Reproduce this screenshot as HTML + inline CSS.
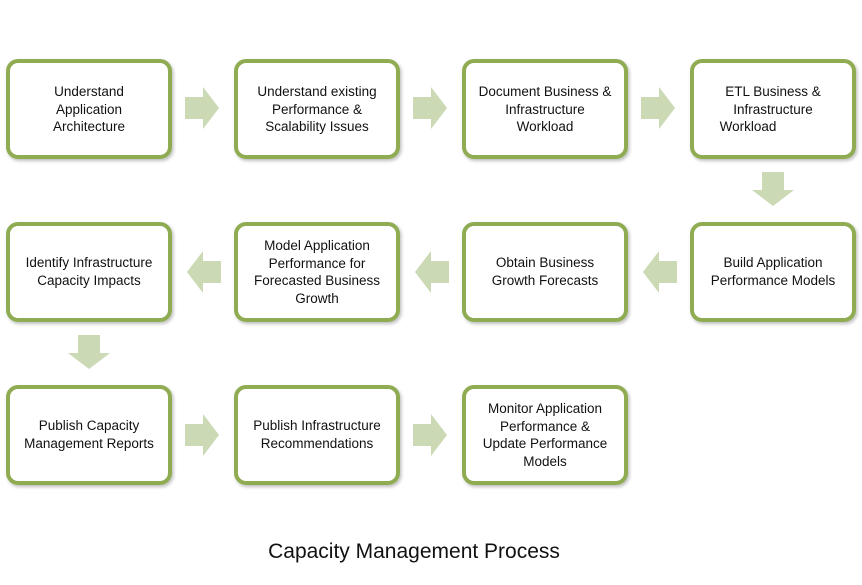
<!DOCTYPE html>
<html><head><style>
body{margin:0;background:#fff;}
svg text{font-family:"Liberation Sans",sans-serif;font-size:13.5px;fill:#111;}
</style></head><body>
<svg width="862" height="580" xmlns="http://www.w3.org/2000/svg">
<defs>
<filter id="s" x="-10%" y="-10%" width="130%" height="130%"><feDropShadow dx="1.5" dy="2" stdDeviation="1.5" flood-color="#000" flood-opacity="0.25"/></filter>
<g id="ar"><path d="M0,-11 H18 V-21 L34,0 L18,21 V11 H0 Z" fill="#cbd9b4"/></g>
</defs>
<g fill="#fff" stroke="#8fac52" stroke-width="4" filter="url(#s)">
<rect x="8" y="61" width="162" height="96" rx="10"/>
<rect x="236" y="61" width="162" height="96" rx="10"/>
<rect x="464" y="61" width="162" height="96" rx="10"/>
<rect x="692" y="61" width="162" height="96" rx="10"/>
<rect x="8" y="224" width="162" height="96" rx="10"/>
<rect x="236" y="224" width="162" height="96" rx="10"/>
<rect x="464" y="224" width="162" height="96" rx="10"/>
<rect x="692" y="224" width="162" height="96" rx="10"/>
<rect x="8" y="387" width="162" height="96" rx="10"/>
<rect x="236" y="387" width="162" height="96" rx="10"/>
<rect x="464" y="387" width="162" height="96" rx="10"/>
</g>
<use href="#ar" x="185" y="108"/>
<use href="#ar" x="413" y="108"/>
<use href="#ar" x="641" y="108"/>
<use href="#ar" transform="translate(677,272) scale(-1,1)"/>
<use href="#ar" transform="translate(449,272) scale(-1,1)"/>
<use href="#ar" transform="translate(221,272) scale(-1,1)"/>
<use href="#ar" transform="translate(773,172) rotate(90)"/>
<use href="#ar" transform="translate(89,335) rotate(90)"/>
<use href="#ar" x="185" y="435"/>
<use href="#ar" x="413" y="435"/>
<g text-anchor="middle">
<text x="89" y="96">Understand</text><text x="89" y="114">Application</text><text x="89" y="131">Architecture</text>
<text x="317" y="96">Understand existing</text><text x="317" y="114">Performance &amp;</text><text x="317" y="131">Scalability Issues</text>
<text x="545" y="96">Document Business &amp;</text><text x="545" y="114">Infrastructure</text><text x="545" y="131">Workload</text>
<text x="773" y="96">ETL Business &amp;</text><text x="773" y="114">Infrastructure</text><text x="748" y="131">Workload</text>
<text x="89" y="267">Identify Infrastructure</text><text x="89" y="285">Capacity Impacts</text>
<text x="317" y="250">Model Application</text><text x="317" y="268">Performance for</text><text x="317" y="285">Forecasted Business</text><text x="317" y="303">Growth</text>
<text x="545" y="267">Obtain Business</text><text x="545" y="285">Growth Forecasts</text>
<text x="773" y="267">Build Application</text><text x="773" y="285">Performance Models</text>
<text x="89" y="430">Publish Capacity</text><text x="89" y="448">Management Reports</text>
<text x="317" y="430">Publish Infrastructure</text><text x="317" y="448">Recommendations</text>
<text x="545" y="413">Monitor Application</text><text x="545" y="431">Performance &amp;</text><text x="545" y="448">Update Performance</text><text x="545" y="466">Models</text>
<text x="414" y="558" style="font-size:21px">Capacity Management Process</text>
</g>
</svg>
</body></html>
